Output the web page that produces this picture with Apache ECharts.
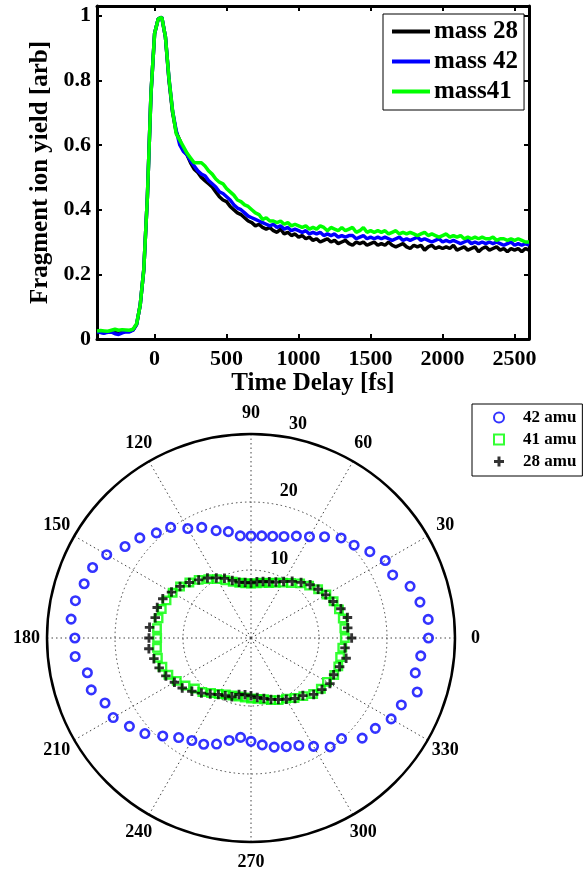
<!DOCTYPE html>
<html>
<head>
<meta charset="utf-8">
<script src="https://cdn.jsdelivr.net/npm/echarts@6/dist/echarts.min.js"></script>
<style>
html,body{margin:0;padding:0;background:#fff;}
#c{width:586px;height:875px;}
</style>
</head>
<body>
<div id="c"></div>
<script>
// ---------- Top panel data ----------
const timeDelay = [-400,-375,-350,-325,-300,-275,-250,-225,-200,-175,-150,-125,-100,-75,-50,-25,0,25,50,75,100,125,150,175,200,225,250,275,300,325,350,375,400,425,450,475,500,525,550,575,600,625,650,675,700,725,750,775,800,825,850,875,900,925,950,975,1000,1025,1050,1075,1100,1125,1150,1175,1200,1225,1250,1275,1300,1325,1350,1375,1400,1425,1450,1475,1500,1525,1550,1575,1600,1625,1650,1675,1700,1725,1750,1775,1800,1825,1850,1875,1900,1925,1950,1975,2000,2025,2050,2075,2100,2125,2150,2175,2200,2225,2250,2275,2300,2325,2350,2375,2400,2425,2450,2475,2500,2525,2550,2575,2600];

const mass28 = [.022,.021,.019,.022,.023,.020,.018,.022,.024,.024,
.028,.045,.105,.215,.44,.76,.945,.99,.995,.935,
.80,.70,.64,.615,.585,.57,.545,.525,.515,.50,
.49,.48,.47,.455,.44,.43,.425,.41,.40,.39,
.385,.375,.365,.36,.35,.355,.345,.34,.345,.335,
.33,.34,.325,.33,.32,.325,.315,.32,.31,.315,
.305,.31,.30,.305,.31,.30,.305,.295,.30,.305,
.295,.29,.30,.295,.30,.29,.295,.30,.29,.295,
.29,.30,.29,.285,.29,.295,.285,.28,.29,.285,
.29,.275,.285,.29,.28,.285,.28,.285,.28,.29,
.275,.28,.285,.275,.28,.285,.27,.28,.285,.275,
.28,.285,.275,.28,.27,.28,.275,.28,.27,.28,.275];

const mass42 = [.022,.020,.018,.021,.022,.016,.014,.019,.022,.022,
.027,.045,.105,.215,.44,.76,.945,.99,.995,.935,
.805,.705,.645,.60,.58,.57,.55,.535,.52,.51,
.505,.49,.48,.47,.455,.45,.44,.43,.415,.405,
.40,.39,.38,.375,.37,.365,.36,.355,.35,.355,
.345,.35,.34,.345,.335,.34,.335,.33,.335,.325,
.33,.325,.33,.32,.325,.32,.325,.315,.32,.315,
.32,.32,.31,.315,.32,.31,.315,.31,.315,.31,
.315,.31,.305,.31,.315,.305,.31,.305,.31,.315,
.305,.31,.305,.30,.305,.31,.30,.305,.30,.305,
.30,.295,.30,.305,.295,.30,.295,.30,.295,.30,
.295,.30,.295,.29,.295,.30,.29,.295,.29,.295,.29];

const mass41 = [.025,.026,.025,.024,.027,.030,.027,.029,.028,.027,
.030,.047,.105,.215,.44,.76,.945,.99,.995,.935,
.805,.705,.635,.615,.595,.575,.56,.545,.545,.545,
.535,.52,.51,.495,.485,.48,.465,.455,.445,.43,
.425,.415,.41,.40,.39,.385,.37,.375,.365,.365,
.36,.365,.355,.36,.35,.355,.35,.345,.35,.34,
.345,.34,.35,.345,.335,.345,.34,.335,.345,.335,
.34,.345,.33,.335,.345,.33,.335,.33,.335,.33,
.335,.325,.33,.335,.325,.33,.325,.33,.325,.32,
.325,.33,.32,.325,.32,.315,.32,.325,.315,.32,
.315,.32,.31,.315,.31,.315,.31,.315,.31,.31,
.315,.305,.31,.31,.305,.31,.305,.31,.305,.30,.30];

const xTicks = [0,500,1000,1500,2000,2500];
const yTicks = [0,0.2,0.4,0.6,0.8,1];
const lineNames = ['mass 28','mass 42','mass41'];

// ---------- Bottom (polar) panel data ----------
const polarAngles = [0,6,12,18,24,30,36,42,48,54,60,66,72,78,84,90,96,102,108,114,120,126,132,138,144,150,156,162,168,174,180,186,192,198,204,210,216,222,228,234,240,246,252,258,264,270,276,282,288,294,300,306,312,318,324,330,336,342,348,354];

const amu42 = [26.1,26.2,25.4,24.6,22.8,22.8,21.6,20.4,19.8,18.4,
17.2,16.4,15.7,15.3,15.1,15.0,15.1,16.0,16.6,17.8,
18.6,20.1,20.8,22.0,22.9,24.5,25.5,25.8,26.4,26.6,
25.9,26.0,24.6,24.7,23.5,23.4,22.1,21.0,19.4,18.1,
17.4,17.1,16.4,15.4,14.7,15.2,15.8,16.4,16.8,17.3,
18.4,19.8,19.9,22.0,22.6,23.8,24.2,25.7,24.7,25.1];

const amu41 = [13.8,13.8,13.8,13.6,13.3,12.8,12.2,11.5,10.8,10.0,
9.4,8.9,8.5,8.3,8.1,8.0,8.1,8.3,8.7,9.3,
10.0,10.7,11.5,12.2,12.9,13.3,13.6,13.8,13.9,13.9,
13.8,13.9,14.0,13.7,13.3,12.6,11.9,11.1,10.7,10.0,
9.5,9.1,8.9,8.8,8.8,8.9,9.0,9.2,9.6,10.0,
10.3,10.9,11.5,12.3,12.7,12.9,13.4,13.5,13.4,13.5];

const amu28 = [14.8,14.3,14.5,13.9,13.2,12.7,12.2,11.7,11.0,10.3,
9.6,9.0,8.7,8.5,8.3,8.1,8.2,8.4,8.9,9.6,
10.2,10.9,11.5,12.2,12.9,13.5,14.2,14.5,14.4,15.0,
15.0,15.1,14.6,14.2,13.7,13.0,12.5,11.7,10.9,10.2,
9.6,9.3,9.1,8.5,8.4,8.5,8.8,9.1,9.5,9.9,
10.4,11.0,11.4,12.4,12.9,13.4,13.3,13.7,14.3,13.9];

const radiusTicks = [10,20,30];
const angleTicks = [0,30,60,90,120,150,180,210,240,270,300,330];
const scatterNames = ['42 amu','41 amu','28 amu'];

// ---------- build ----------
const FONT = 'Liberation Serif';
const pair = (xs, ys) => xs.map((x, i) => [x, ys[i]]);
const polarPair = (rs) => rs.map((r, i) => [r, polarAngles[i]]);

const chart = echarts.init(document.getElementById('c'), null, {renderer: 'canvas'});

const axisLineStyle = {color: '#000', width: 3};
const tickLabel = {fontFamily: FONT, fontWeight: 'bold', fontSize: 22, color: '#000', formatter: v => String(v)};
const dotted = {color: '#444', width: 1, type: [1.5, 3]};
const RMAX = 30;

const option = {
  animation: false,
  backgroundColor: '#fff',
  grid: [{left: 97, top: 6, width: 432, height: 333, containLabel: false}],
  xAxis: [
    {type: 'value', gridIndex: 0, position: 'bottom', min: -400, max: 2600,
     axisLine: {onZero: false, lineStyle: axisLineStyle},
     axisTick: {inside: true, length: 5, lineStyle: {width: 2, color: '#000'}, customValues: xTicks},
     axisLabel: Object.assign({margin: 9, customValues: xTicks}, tickLabel),
     splitLine: {show: false},
     name: 'Time Delay [fs]', nameLocation: 'middle', nameGap: 30,
     nameTextStyle: {fontFamily: FONT, fontWeight: 'bold', fontSize: 25, color: '#000'}},
    {type: 'value', gridIndex: 0, position: 'top', min: -400, max: 2600,
     axisLine: {onZero: false, lineStyle: axisLineStyle},
     axisTick: {inside: true, length: 5, lineStyle: {width: 2, color: '#000'}, customValues: xTicks},
     axisLabel: {show: false}, splitLine: {show: false}}
  ],
  yAxis: [
    {type: 'value', gridIndex: 0, position: 'left', min: 0, max: 1.03,
     axisLine: {onZero: false, lineStyle: axisLineStyle},
     axisTick: {inside: true, length: 5, lineStyle: {width: 2, color: '#000'}, customValues: yTicks},
     axisLabel: Object.assign({margin: 6, customValues: yTicks}, tickLabel),
     splitLine: {show: false},
     name: 'Fragment ion yield [arb]', nameLocation: 'middle', nameGap: 42,
     nameTextStyle: {fontFamily: FONT, fontWeight: 'bold', fontSize: 25, color: '#000'}},
    {type: 'value', gridIndex: 0, position: 'right', min: 0, max: 1.03,
     axisLine: {onZero: false, lineStyle: axisLineStyle},
     axisTick: {inside: true, length: 5, lineStyle: {width: 2, color: '#000'}, customValues: yTicks},
     axisLabel: {show: false}, splitLine: {show: false}}
  ],
  polar: [{center: [251, 638], radius: 204}],
  angleAxis: [{
    polarIndex: 0, type: 'value', min: 0, max: 360, interval: 30,
    startAngle: 0, clockwise: false,
    axisLine: {lineStyle: {color: '#000', width: 2.5}},
    axisTick: {show: false},
    axisLabel: {show: false},
    splitLine: {show: true, lineStyle: dotted}
  }],
  radiusAxis: [{
    polarIndex: 0, type: 'value', min: 0, max: RMAX, interval: 10,
    axisLine: {show: false}, axisTick: {show: false}, axisLabel: {show: false},
    splitLine: {show: true, lineStyle: dotted}
  }],
  legend: [
    {data: lineNames, orient: 'vertical', left: 383, top: 14,
     icon: 'rect', itemWidth: 38, itemHeight: 4, itemGap: 5,
     padding: [5, 6, 6, 9],
     borderColor: '#000', borderWidth: 1, backgroundColor: '#fff',
     textStyle: {fontFamily: FONT, fontWeight: 'bold', fontSize: 25, color: '#000', padding: [0, 0, 0, -1]}},
    {data: scatterNames, orient: 'vertical', left: 472, top: 404,
     itemWidth: 10, itemHeight: 10, itemGap: 5,
     padding: [5, 6, 6, 21],
     borderColor: '#000', borderWidth: 1, backgroundColor: '#fff',
     textStyle: {fontFamily: FONT, fontWeight: 'bold', fontSize: 17, color: '#000', padding: [0, 0, 0, 14]}}
  ],
  series: [
    {name: 'mass 28', type: 'line', xAxisIndex: 0, yAxisIndex: 0, data: pair(timeDelay, mass28),
     symbol: 'none', lineStyle: {color: '#000', width: 3.5}, itemStyle: {color: '#000'}},
    {name: 'mass 42', type: 'line', xAxisIndex: 0, yAxisIndex: 0, data: pair(timeDelay, mass42),
     symbol: 'none', lineStyle: {color: '#0000ff', width: 3.5}, itemStyle: {color: '#0000ff'}},
    {name: 'mass41', type: 'line', xAxisIndex: 0, yAxisIndex: 0, data: pair(timeDelay, mass41),
     symbol: 'none', lineStyle: {color: '#00ff00', width: 3.5}, itemStyle: {color: '#00ff00'}},
    {name: '42 amu', type: 'scatter', coordinateSystem: 'polar', polarIndex: 0, data: polarPair(amu42),
     symbol: 'circle', symbolSize: 8.5,
     itemStyle: {color: 'rgba(0,0,0,0)', borderColor: '#0000ff', borderWidth: 2.6}},
    {name: '41 amu', type: 'scatter', coordinateSystem: 'polar', polarIndex: 0, data: polarPair(amu41),
     symbol: 'rect', symbolSize: 7.5,
     itemStyle: {color: 'rgba(0,0,0,0)', borderColor: '#00ff00', borderWidth: 2.4}},
    {name: '28 amu', type: 'scatter', coordinateSystem: 'polar', polarIndex: 0, data: polarPair(amu28),
     symbol: 'path://M3.5,0h3v3.5h3.5v3h-3.5v3.5h-3v-3.5h-3.5v-3h3.5z', symbolSize: 9.5,
     itemStyle: {color: '#000'}}
  ]
};
chart.setOption(option);

// MATLAB polar() style labels: radius labels beside the 82-degree ray,
// angle labels centred at 1.1 x rmax.
const texts = [];
radiusTicks.forEach(v => {
  const p = chart.convertToPixel({polarIndex: 0}, [v, 82]);
  texts.push({type: 'text', x: p[0] + 18.7, y: p[1] - 11.7, z: 100,
    style: {text: String(v), fontFamily: FONT, fontWeight: 'bold', fontSize: 18, fill: '#000',
            align: 'center', verticalAlign: 'middle'}});
});
angleTicks.forEach(a => {
  const p = chart.convertToPixel({polarIndex: 0}, [RMAX * 1.1, a]);
  texts.push({type: 'text', x: p[0], y: p[1], z: 100,
    style: {text: String(a), fontFamily: FONT, fontWeight: 'bold', fontSize: 18, fill: '#000',
            align: 'center', verticalAlign: 'middle'}});
});
chart.setOption({graphic: texts});
</script>
</body>
</html>
